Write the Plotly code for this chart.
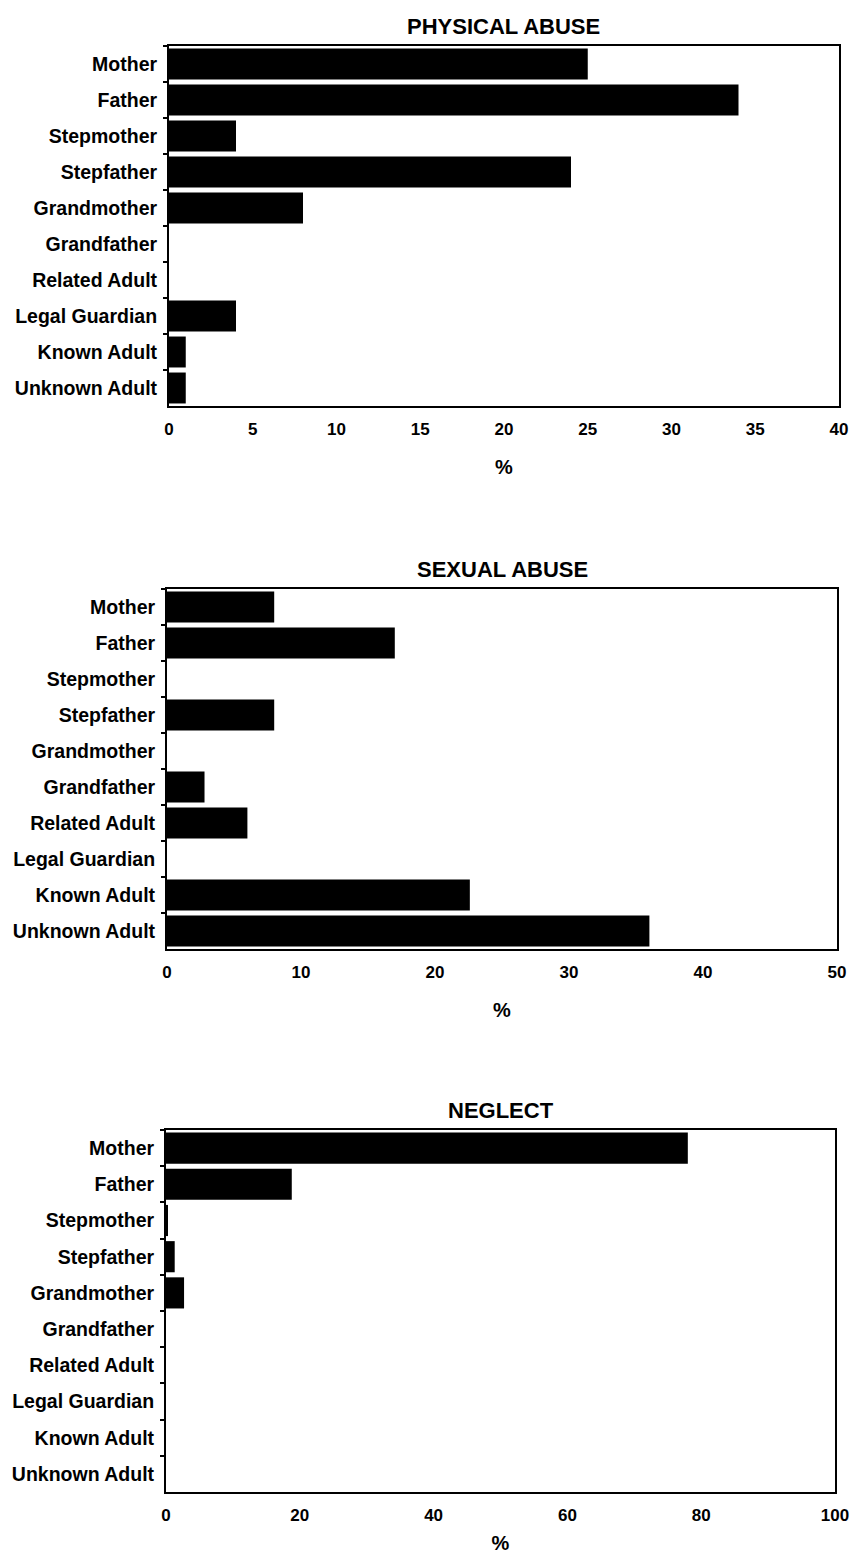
import plotly.graph_objects as go

categories = ["Mother", "Father", "Stepmother", "Stepfather", "Grandmother",
              "Grandfather", "Related Adult", "Legal Guardian", "Known Adult", "Unknown Adult"]
physical = [25, 34, 4, 24, 8, 0, 0, 4, 1, 1]
sexual = [8, 17, 0, 8, 0, 2.8, 6, 0, 22.6, 36]
neglect = [78, 18.8, 0.3, 1.3, 2.7, 0, 0, 0, 0, 0]
titles = ["PHYSICAL ABUSE", "SEXUAL ABUSE", "NEGLECT"]
xmax = [40, 50, 100]
xdtick = [5, 10, 20]

W, H = 850, 1554
boxes = [  # left, right, top, bottom in page px
    (169, 839, 46, 406),
    (167, 837, 589, 949),
    (166, 835, 1130, 1492),
]

FONT = "Liberation Sans"
fig = go.Figure()
series = [physical, sexual, neglect]
for i, vals in enumerate(series):
    n = "" if i == 0 else str(i + 1)
    fig.add_trace(go.Bar(
        x=vals, y=categories, orientation="h",
        marker=dict(color="black", line=dict(width=0)),
        xaxis="x" + n, yaxis="y" + n, showlegend=False,
    ))
    l, r, t, b = boxes[i]
    xd = [l / W, r / W]
    yd = [1 - b / H, 1 - t / H]
    fig.layout["xaxis" + n] = dict(
        domain=xd, anchor="y" + n, range=[0, xmax[i]], dtick=xdtick[i],
        automargin=False,
        showline=True, mirror=True, linewidth=2, linecolor="black",
        showgrid=False, zeroline=False, ticks="", ticklabelstandoff=7,
        ticklabeloverflow="allow",
        tickfont=dict(family=FONT, size=17, color="black", weight="bold"),
        title=dict(text="%", font=dict(family=FONT, size=20, color="black", weight="bold"), standoff=22),
    )
    fig.layout["yaxis" + n] = dict(
        domain=yd, anchor="x" + n, autorange="reversed",
        automargin=False,
        categoryorder="array", categoryarray=categories,
        showline=True, mirror=True, linewidth=2, linecolor="black",
        showgrid=False, zeroline=False,
        ticks="outside", ticklen=4, tickwidth=2, tickcolor="black", tickson="boundaries",
        ticklabelstandoff=6,
        tickfont=dict(family=FONT, size=19.5, color="black", weight="bold"),
    )
    fig.add_annotation(
        text=titles[i], xref="paper", yref="paper",
        x=(l + r) / 2 / W, y=1 - (t - 5) / H, xanchor="center", yanchor="bottom",
        showarrow=False, font=dict(family=FONT, size=22, color="black", weight="bold"),
    )

fig.update_layout(
    width=W, height=H, margin=dict(l=0, r=0, t=0, b=0, autoexpand=False),
    paper_bgcolor="white", plot_bgcolor="white", bargap=0.14,
)
fig.write_html(
    "out.html",
    config={"displayModeBar": False},
    post_script="document.body.style.margin='0';document.body.style.overflow='hidden';",
)
